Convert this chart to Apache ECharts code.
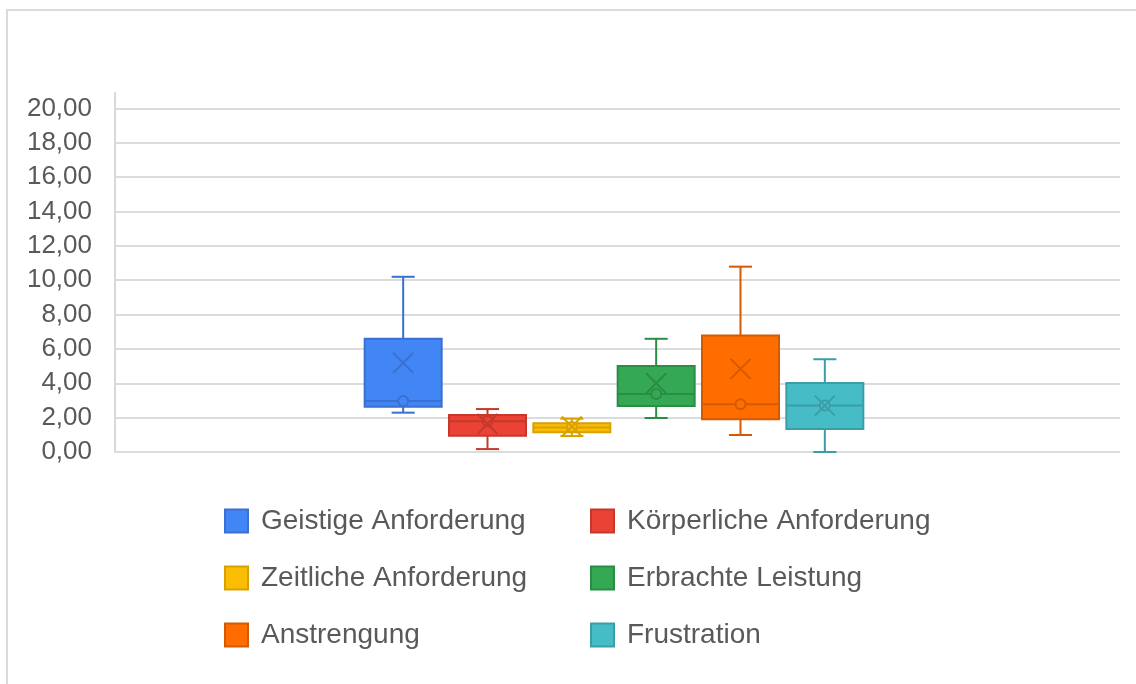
<!DOCTYPE html>
<html>
<head>
<meta charset="utf-8">
<script src="https://cdn.jsdelivr.net/npm/echarts@6/dist/echarts.min.js"></script>
<style>
  html, body { margin: 0; padding: 0; background: #fff; }
  #frame { position: absolute; left: 6px; top: 9px; width: 1200px; height: 740px; border: 2px solid #dadada; box-sizing: border-box; }
  #chart { position: absolute; left: 0; top: 0; width: 1136px; height: 684px; }
</style>
</head>
<body>
<div id="frame"></div>
<div id="chart"></div>
<script>
// Workload dimensions (box-and-whisker summary per dimension)
const categories = [
  'Geistige Anforderung', 'Körperliche Anforderung', 'Zeitliche Anforderung',
  'Erbrachte Leistung', 'Anstrengung', 'Frustration'
];
const minValues    = [2.29, 0.17, 0.93, 1.98, 0.99, 0.00];
const q1Values     = [2.64, 0.95, 1.15, 2.68, 1.90, 1.34];
const medianValues = [2.97, 1.79, 1.42, 3.38, 2.78, 2.70];
const q3Values     = [6.59, 2.16, 1.67, 5.00, 6.78, 4.02];
const maxValues    = [10.20, 2.50, 1.94, 6.59, 10.79, 5.40];
const meanValues   = [5.19, 1.63, 1.48, 4.00, 4.84, 2.70];
const innerPoints  = [2.97, 1.80, 1.45, 3.38, 2.78, 2.70];
const yTicks = [0, 2, 4, 6, 8, 10, 12, 14, 16, 18, 20];

const fillColors   = ['#4285f4', '#ea4335', '#fbbc04', '#34a853', '#ff6d01', '#46bdc6'];
const strokeColors = ['#3a70d0', '#c5382c', '#d8a100', '#2b8c45', '#d45a00', '#3a9ea6'];

const Y_MAX = 20.9;
const chart = echarts.init(document.getElementById('chart'), null, { renderer: 'canvas' });

function renderBox(params, api) {
  const i = api.value(0);
  const band = api.size([1, 0])[0];
  const w = band * 0.913;
  const cap = w * 0.3;
  const cx = api.coord([i, 0])[0];
  const y = v => api.coord([i, v])[1];
  const yMin = y(api.value(1)), yQ1 = y(api.value(2)), yMed = y(api.value(3));
  const yQ3 = y(api.value(4)), yMax = y(api.value(5)), yMean = y(api.value(6)), yPt = y(api.value(7));
  const stroke = strokeColors[i];
  const fill = fillColors[i];
  const ls = { stroke: stroke, lineWidth: 2, fill: null };
  const m = 10;
  return {
    type: 'group',
    children: [
      { type: 'line', shape: { x1: cx, y1: yMax, x2: cx, y2: yQ3 }, style: ls },
      { type: 'line', shape: { x1: cx, y1: yQ1, x2: cx, y2: yMin }, style: ls },
      { type: 'line', shape: { x1: cx - cap / 2, y1: yMax, x2: cx + cap / 2, y2: yMax }, style: ls },
      { type: 'line', shape: { x1: cx - cap / 2, y1: yMin, x2: cx + cap / 2, y2: yMin }, style: ls },
      { type: 'rect', shape: { x: cx - w / 2, y: yQ3, width: w, height: yQ1 - yQ3 },
        style: { fill: fill, stroke: stroke, lineWidth: 2 } },
      { type: 'line', shape: { x1: cx - w / 2, y1: yMed, x2: cx + w / 2, y2: yMed }, style: ls },
      { type: 'circle', shape: { cx: cx, cy: yPt, r: 5 }, style: { fill: fill, stroke: stroke, lineWidth: 2 } },
      { type: 'line', shape: { x1: cx - m, y1: yMean - m, x2: cx + m, y2: yMean + m }, style: ls },
      { type: 'line', shape: { x1: cx - m, y1: yMean + m, x2: cx + m, y2: yMean - m }, style: ls }
    ]
  };
}

const series = categories.map((name, i) => ({
  name: name,
  type: 'custom',
  xAxisIndex: 1,
  yAxisIndex: 1,
  itemStyle: { color: fillColors[i], borderColor: strokeColors[i] },
  renderItem: renderBox,
  encode: { x: 0, y: [1, 2, 3, 4, 5] },
  data: [[i, minValues[i], q1Values[i], medianValues[i], q3Values[i], maxValues[i], meanValues[i], innerPoints[i]]]
}));

function legendData(list) {
  return list.map(i => ({
    name: categories[i],
    icon: 'rect',
    itemStyle: { color: fillColors[i], borderColor: strokeColors[i], borderWidth: 2 }
  }));
}

const legendText = { fontFamily: 'Liberation Sans, Arial, sans-serif', fontSize: 28, color: '#595959', padding: [0, 0, 0, 8], lineHeight: 24 };

chart.setOption({
  animation: false,
  grid: [
    { left: 115, right: 16, top: 93, bottom: 232 },
    { left: 361, width: 506, top: 93, bottom: 232 }
  ],
  xAxis: [
    { type: 'category', gridIndex: 0, data: [''], axisLine: { show: false }, axisTick: { show: false }, axisLabel: { show: false } },
    { type: 'category', gridIndex: 1, data: categories, show: false }
  ],
  yAxis: [
    {
      type: 'value', gridIndex: 0, min: 0, max: Y_MAX, interval: 2,
      axisLine: { show: true, lineStyle: { color: '#d9d9d9', width: 2 } },
      axisTick: { show: false },
      axisLabel: {
        showMaxLabel: false,
        margin: 23,
        fontFamily: 'Liberation Sans, Arial, sans-serif', fontSize: 26, color: '#595959',
        formatter: v => yTicks.indexOf(v) >= 0 ? v.toFixed(2).replace('.', ',') : ''
      },
      splitLine: { show: true, showMaxLine: false, lineStyle: { color: '#dcdcdc', width: 2 } }
    },
    { type: 'value', gridIndex: 1, min: 0, max: Y_MAX, show: false, splitLine: { show: false } }
  ],
  legend: [
    { left: 224, top: 507, padding: 0, orient: 'vertical', itemWidth: 23, itemHeight: 23, itemGap: 29,
      textStyle: legendText, data: legendData([0, 2, 4]) },
    { left: 590, top: 507, padding: 0, orient: 'vertical', itemWidth: 23, itemHeight: 23, itemGap: 29,
      textStyle: legendText, data: legendData([1, 3, 5]) }
  ],
  series: series
});
</script>
</body>
</html>
